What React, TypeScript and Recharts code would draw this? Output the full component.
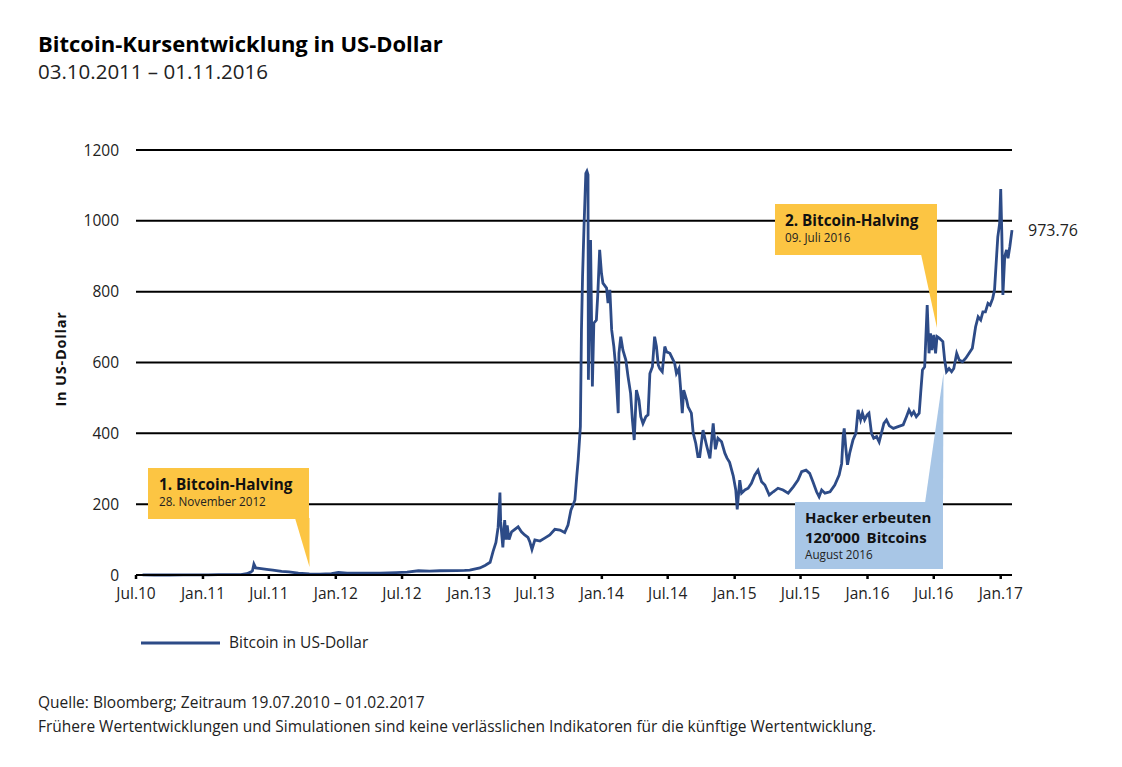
import React from "react";
import { LineChart, Line, XAxis, YAxis, CartesianGrid } from "recharts";

// Kurs (USD)
const dates = [
  "2010-07-19", "2010-08-20", "2010-10-01", "2010-11-08", "2010-12-15", "2011-01-15", "2011-02-12", "2011-03-15",
  "2011-04-15", "2011-05-01", "2011-05-12", "2011-05-17", "2011-05-21", "2011-05-26", "2011-06-10", "2011-06-25",
  "2011-07-12", "2011-08-05", "2011-08-25", "2011-09-20", "2011-10-20", "2011-11-18", "2011-12-20", "2012-01-08",
  "2012-02-01", "2012-03-15", "2012-05-01", "2012-06-15", "2012-07-15", "2012-08-15", "2012-09-15", "2012-10-13",
  "2012-11-28", "2012-12-20", "2013-01-03", "2013-01-31", "2013-02-14", "2013-02-28", "2013-03-08", "2013-03-16",
  "2013-03-22", "2013-03-27", "2013-03-29", "2013-04-04", "2013-04-09", "2013-04-13", "2013-04-16", "2013-04-21",
  "2013-04-28", "2013-05-16", "2013-05-25", "2013-06-03", "2013-06-12", "2013-06-17", "2013-06-23", "2013-07-01",
  "2013-07-15", "2013-07-28", "2013-08-11", "2013-08-25", "2013-09-08", "2013-09-21", "2013-09-30", "2013-10-08",
  "2013-10-14", "2013-10-19", "2013-10-24", "2013-10-28", "2013-11-03", "2013-11-06", "2013-11-09", "2013-11-13",
  "2013-11-18", "2013-11-21", "2013-11-24", "2013-11-25", "2013-12-01", "2013-12-06", "2013-12-10", "2013-12-17",
  "2013-12-21", "2013-12-26", "2013-12-31", "2014-01-04", "2014-01-14", "2014-01-18", "2014-01-23", "2014-01-28",
  "2014-02-03", "2014-02-08", "2014-02-15", "2014-02-17", "2014-02-22", "2014-02-28", "2014-03-08", "2014-03-14",
  "2014-03-21", "2014-03-26", "2014-03-31", "2014-04-06", "2014-04-13", "2014-04-18", "2014-04-24", "2014-05-02",
  "2014-05-08", "2014-05-13", "2014-05-20", "2014-05-26", "2014-05-31", "2014-06-05", "2014-06-09", "2014-06-16",
  "2014-06-23", "2014-06-28", "2014-07-07", "2014-07-16", "2014-07-20", "2014-07-25", "2014-08-01", "2014-08-05",
  "2014-08-10", "2014-08-14", "2014-08-22", "2014-08-26", "2014-09-04", "2014-09-09", "2014-09-16", "2014-09-22",
  "2014-09-27", "2014-10-06", "2014-10-16", "2014-10-25", "2014-11-03", "2014-11-09", "2014-11-16", "2014-11-26",
  "2014-12-05", "2014-12-11", "2014-12-18", "2014-12-28", "2015-01-04", "2015-01-08", "2015-01-15", "2015-01-20",
  "2015-01-29", "2015-02-07", "2015-02-16", "2015-02-25", "2015-03-06", "2015-03-16", "2015-03-25", "2015-04-06",
  "2015-04-17", "2015-04-30", "2015-05-14", "2015-05-28", "2015-06-11", "2015-06-24", "2015-07-04", "2015-07-16",
  "2015-07-26", "2015-08-04", "2015-08-14", "2015-08-21", "2015-08-28", "2015-09-06", "2015-09-20", "2015-10-03",
  "2015-10-15", "2015-10-22", "2015-10-26", "2015-10-29", "2015-11-02", "2015-11-07", "2015-11-13", "2015-11-22",
  "2015-11-30", "2015-12-06", "2015-12-13", "2015-12-18", "2015-12-24", "2015-12-31", "2016-01-05", "2016-01-12",
  "2016-01-18", "2016-01-26", "2016-02-02", "2016-02-08", "2016-02-15", "2016-02-22", "2016-03-01", "2016-03-12",
  "2016-03-25", "2016-04-08", "2016-04-17", "2016-04-24", "2016-05-01", "2016-05-07", "2016-05-14", "2016-05-22",
  "2016-05-26", "2016-05-31", "2016-06-06", "2016-06-13", "2016-06-18", "2016-06-22", "2016-06-26", "2016-07-01",
  "2016-07-06", "2016-07-10", "2016-07-17", "2016-07-26", "2016-07-31", "2016-08-05", "2016-08-12", "2016-08-19",
  "2016-08-25", "2016-09-02", "2016-09-09", "2016-09-18", "2016-09-27", "2016-10-06", "2016-10-15", "2016-10-24",
  "2016-10-31", "2016-11-07", "2016-11-13", "2016-11-20", "2016-11-27", "2016-12-03", "2016-12-10", "2016-12-15",
  "2016-12-20", "2016-12-24", "2016-12-29", "2017-01-01", "2017-01-04", "2017-01-07", "2017-01-12", "2017-01-17",
  "2017-01-21", "2017-01-26", "2017-02-01",
];

const prices = [
  0.08, 0.07, 0.06, 0.28, 0.24, 0.4, 1.0, 0.85,
  1.1, 3.5, 8, 12, 31, 20, 18, 16,
  14, 10, 9, 5, 3, 2.5, 4, 7,
  5.5, 5, 5, 6.5, 8, 12, 11, 12,
  12.5, 13, 14, 20, 27, 36, 66, 92,
  135, 233, 150, 78, 155, 100, 140, 100,
  122, 136, 122, 113, 106, 94, 72, 99,
  96, 104, 113, 129, 127, 120, 141, 183,
  198, 212, 278, 325, 419, 692, 842, 983,
  1134, 1140, 1130, 551, 946, 532, 711, 720,
  795, 918, 852, 824, 810, 768, 805, 692,
  645, 588, 457, 626, 673, 635, 607, 560,
  513, 438, 381, 522, 494, 447, 428, 447,
  452, 569, 588, 673, 645, 593, 583, 574,
  645, 630, 626, 607, 598, 569, 583, 532,
  457, 522, 494, 475, 457, 401, 372, 334,
  334, 409, 365, 329, 428, 355, 386, 376,
  344, 330, 318, 280, 240, 185, 268, 231,
  240, 245, 259, 282, 296, 263, 254, 226,
  235, 245, 240, 231, 249, 268, 292, 296,
  287, 263, 235, 221, 240, 231, 235, 254,
  282, 315, 391, 414, 362, 311, 344, 381,
  400, 466, 438, 457, 438, 452, 457, 400,
  386, 391, 376, 400, 428, 438, 421, 414,
  419, 424, 447, 466, 452, 461, 447, 457,
  513, 579, 588, 762, 626, 682, 635, 678,
  626, 673, 668, 659, 607, 574, 583, 574,
  583, 626, 607, 602, 612, 626, 640, 701,
  729, 720, 743, 743, 767, 762, 781, 805,
  889, 955, 993, 1090, 965, 791, 899, 918,
  894, 927, 973.76,
];

const xTickDates = [
  "2010-07-01", "2011-01-01", "2011-07-01", "2012-01-01", "2012-07-01", "2013-01-01", "2013-07-01",
  "2014-01-01", "2014-07-01", "2015-01-01", "2015-07-01", "2016-01-01", "2016-07-01", "2017-01-01",
];
const xTickLabels = [
  "Jul.10", "Jan.11", "Jul.11", "Jan.12", "Jul.12", "Jan.13", "Jul.13",
  "Jan.14", "Jul.14", "Jan.15", "Jul.15", "Jan.16", "Jul.16", "Jan.17",
];
const yTicks = [0, 200, 400, 600, 800, 1000, 1200];

const toTs = (s: string) => Date.UTC(+s.slice(0, 4), +s.slice(5, 7) - 1, +s.slice(8, 10));

const data = dates.map((d, i) => ({ ts: toTs(d), price: prices[i] }));
const xTicks = xTickDates.map(toTs);

const LINE = "#2D4B87";
const YELLOW = "#FCC543";
const BLUE = "#A8C6E6";
const FONT = "'Open Sans', Lato, sans-serif";

export default function App() {
  return (
    <div style={{ position: "absolute", left: 0, top: 0, width: 1122, height: 767, background: "#fff", fontFamily: FONT }}>
      <LineChart
        width={1122}
        height={767}
        data={data}
        margin={{ top: 150, right: 110, left: 76, bottom: 162 }}
      >
        <CartesianGrid vertical={false} stroke="#000" strokeWidth={2} />
        <XAxis
          dataKey="ts"
          type="number"
          domain={[toTs("2010-07-01"), toTs("2017-02-01")]}
          ticks={xTicks}
          tickFormatter={(v: number) => xTickLabels[xTicks.indexOf(v)] ?? ""}
          height={30}
          axisLine={{ stroke: "#000", strokeWidth: 2 }}
          tickLine={{ stroke: "#000", strokeWidth: 2.5 }}
          tickSize={4}
          tickMargin={9}
          tick={{ fontSize: 15.5, fill: "#222", fontFamily: FONT }}
          interval={0}
        />
        <YAxis
          domain={[0, 1200]}
          ticks={yTicks}
          width={60}
          axisLine={false}
          tickLine={false}
          tickSize={0}
          tickMargin={17}
          tick={{ fontSize: 15.5, fill: "#222", fontFamily: FONT }}
          interval={0}
        />
        <Line
          type="linear"
          dataKey="price"
          stroke={LINE}
          strokeWidth={2.8}
          dot={false}
          isAnimationActive={false}
        />
      </LineChart>

      <svg width={1122} height={767} style={{ position: "absolute", left: 0, top: 0, pointerEvents: "none" }} fontFamily={FONT}>
        {/* Titel */}
        <text x={38} y={52} fontSize={22} fontWeight={700} fill="#000">Bitcoin-Kursentwicklung in US-Dollar</text>
        <text x={38} y={79} fontSize={20.5} fill="#222">03.10.2011 – 01.11.2016</text>

        {/* Achsentitel */}
        <text x={0} y={0} transform="translate(66 359) rotate(-90)" textAnchor="middle" fontSize={14.5} letterSpacing={0.8} fontWeight={700} fill="#111">In US-Dollar</text>

        {/* Schlusskurs */}
        <text x={1028} y={236} fontSize={16} fill="#222">973.76</text>

        {/* 1. Halving */}
        <rect x={148} y={468} width={161} height={51} fill={YELLOW} />
        <polygon points="295,518 309.5,518 309.5,567" fill={YELLOW} />
        <text x={159} y={490} fontSize={15.3} fontWeight={700} fill="#111">1. Bitcoin-Halving</text>
        <text x={159} y={506} fontSize={11.7} fill="#222">28. November 2012</text>

        {/* 2. Halving */}
        <rect x={775} y={204} width={162} height={51} fill={YELLOW} />
        <polygon points="921,254 937,254 937,328" fill={YELLOW} />
        <text x={785} y={226} fontSize={15.3} fontWeight={700} fill="#111">2. Bitcoin-Halving</text>
        <text x={785} y={242} fontSize={11.7} fill="#222">09. Juli 2016</text>

        {/* Hack */}
        <rect x={795} y={502} width={148} height={67} fill={BLUE} />
        <polygon points="925,503 943,503 943.5,373" fill={BLUE} />
        <text x={805} y={523} fontSize={15} fontWeight={700} fill="#111">Hacker erbeuten</text>
        <text x={805} y={543} fontSize={15} fontWeight={700} fill="#111" wordSpacing={3}>120’000 Bitcoins</text>
        <text x={805} y={559} fontSize={11.7} fill="#222">August 2016</text>

        {/* Legende */}
        <line x1={141} y1={643} x2={220} y2={643} stroke={LINE} strokeWidth={3} />
        <text x={229} y={648} fontSize={15.5} fill="#222">Bitcoin in US-Dollar</text>

        {/* Fussnote */}
        <text x={38} y={708} fontSize={15.5} fill="#222">Quelle: Bloomberg; Zeitraum 19.07.2010 – 01.02.2017</text>
        <text x={38} y={732} fontSize={15.5} fill="#222">Frühere Wertentwicklungen und Simulationen sind keine verlässlichen Indikatoren für die künftige Wertentwicklung.</text>
      </svg>
    </div>
  );
}
